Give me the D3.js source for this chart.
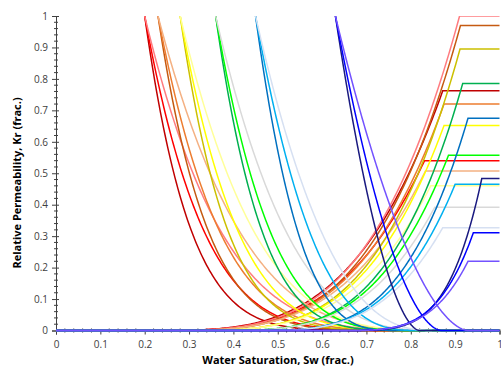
<!DOCTYPE html>
<html>
<head>
<meta charset="utf-8">
<script src="https://cdn.jsdelivr.net/npm/d3@7"></script>
<style>
  body { margin: 0; background: #fff; }
  svg { display: block; }
</style>
</head>
<body>
<div id="chart"></div>
<script>
// one entry per case; each case has an oil (kro) and a water (krw) curve in the same colour
const caseColors = [
  '#C00000', '#FF0000', '#FF7C80',
  '#C55A11', '#ED7D31', '#F4B183',
  '#CCC000', '#FFFF00', '#FFFF99',
  '#00B050', '#00FF00', '#D9D9D9',
  '#0070C0', '#00B0F0', '#D6E0F2',
  '#1A1A80', '#0000FF', '#7352FF'
];
// connate water saturation, read where the kro curves leave kr = 1
const swc = [
  0.20, 0.20, 0.20,
  0.23, 0.23, 0.23,
  0.28, 0.28, 0.28,
  0.36, 0.36, 0.36,
  0.45, 0.45, 0.45,
  0.63, 0.63, 0.63
];
// where each kro curve reaches zero, and its exponent
const kroEnd = [
  0.85, 0.85, 0.90,
  0.88, 0.88, 0.90,
  0.88, 0.88, 0.90,
  0.85, 0.85, 0.87,
  0.78, 0.82, 0.85,
  0.82, 0.87, 0.93
];
const kroExp = [
  6.5, 5.0, 4.1,
  6.0, 4.8, 3.6,
  5.8, 4.7, 3.7,
  4.8, 4.0, 3.1,
  3.4, 2.9, 2.5,
  1.75, 1.8, 1.75
];
// krw end point (1 - Sor) and end-point value, read at the corners on the right
const krwEnd = [
  0.872, 0.831, 0.910,
  0.912, 0.875, 0.833,
  0.911, 0.875, 0.845,
  0.917, 0.885, 0.854,
  0.929, 0.900, 0.872,
  0.960, 0.941, 0.929
];
const krwMax = [
  0.762, 0.540, 1.000,
  0.970, 0.720, 0.507,
  0.895, 0.652, 0.460,
  0.785, 0.557, 0.392,
  0.675, 0.465, 0.327,
  0.483, 0.311, 0.220
];
const krwExp = [
  3.5, 3.5, 3.7,
  3.6, 3.5, 3.4,
  3.6, 3.5, 3.4,
  3.5, 3.4, 3.3,
  3.4, 3.3, 3.2,
  4.5, 4.0, 3.8
];
const xTicks = [0, 0.1, 0.2, 0.3, 0.4, 0.5, 0.6, 0.7, 0.8, 0.9, 1];
const yTicks = [0, 0.1, 0.2, 0.3, 0.4, 0.5, 0.6, 0.7, 0.8, 0.9, 1];

const width = 501, height = 367;
const svg = d3.select('#chart').append('svg')
  .attr('width', width)
  .attr('height', height);

const x = d3.scaleLinear().domain([0, 1]).range([56, 499.5]);
const y = d3.scaleLinear().domain([0, 1]).range([330.5, 16]);

svg.append('defs').append('clipPath')
  .attr('id', 'plot-clip')
  .append('rect')
  .attr('x', x(0) - 2).attr('y', y(1))
  .attr('width', x(1) - x(0) + 4).attr('height', y(0) - y(1) + 10);

// axes
const tickFont = '"Open Sans", "Liberation Sans", sans-serif';
const yAxis = svg.append('g')
  .attr('transform', `translate(${x(0)},0)`)
  .call(d3.axisLeft(y).tickValues(yTicks).tickSize(4).tickPadding(4).tickFormat(d3.format('~g')));
const xAxis = svg.append('g')
  .attr('transform', `translate(0,${y(0)})`)
  .call(d3.axisBottom(x).tickValues(xTicks).tickSize(4).tickPadding(6).tickFormat(d3.format('~g')));

[xAxis, yAxis].forEach(a => {
  a.select('.domain').attr('stroke', '#404040').attr('stroke-width', 1);
  a.selectAll('.tick line').attr('stroke', '#404040');
  a.selectAll('.tick text')
    .attr('fill', '#404040')
    .attr('font-family', tickFont)
    .attr('font-size', '10px');
});
yAxis.selectAll('.tick line').attr('x2', -4).attr('x1', 3);
xAxis.selectAll('.tick line').attr('y1', -1).attr('y2', 4);

// minor ticks every 0.02
const minor = d3.range(0, 1.001, 0.02).filter(v => Math.abs(v * 10 - Math.round(v * 10)) > 1e-6);
svg.append('g').selectAll('line').data(minor).join('line')
  .attr('x1', x(0) - 2).attr('x2', x(0) + 2)
  .attr('y1', d => y(d)).attr('y2', d => y(d))
  .attr('stroke', '#404040');
svg.append('g').selectAll('line').data(minor).join('line')
  .attr('x1', d => x(d)).attr('x2', d => x(d))
  .attr('y1', y(0) - 2).attr('y2', y(0) + 2)
  .attr('stroke', '#404040');

// curves
const line = d3.line().x(d => x(d[0])).y(d => y(d[1]));
const plot = svg.append('g').attr('clip-path', 'url(#plot-clip)');

function kroPoints(i) {
  const pts = [];
  const a = swc[i], b = kroEnd[i];
  for (let k = 0; k <= 200; k++) {
    const sw = a + (b - a) * k / 200;
    pts.push([sw, Math.pow((b - sw) / (b - a), kroExp[i])]);
  }
  pts.push([1, 0]);
  return pts;
}
function krwPoints(i) {
  const pts = [[0, 0]];
  const a = swc[i], b = krwEnd[i];
  for (let k = 0; k <= 200; k++) {
    const sw = a + (b - a) * k / 200;
    pts.push([sw, krwMax[i] * Math.pow((sw - a) / (b - a), krwExp[i])]);
  }
  pts.push([1, krwMax[i]]);
  return pts;
}

caseColors.forEach((c, i) => {
  plot.append('path')
    .attr('d', line(kroPoints(i)))
    .attr('fill', 'none')
    .attr('stroke', c)
    .attr('stroke-width', 1.5);
  plot.append('path')
    .attr('d', line(krwPoints(i)))
    .attr('fill', 'none')
    .attr('stroke', c)
    .attr('stroke-width', 1.5);
});

// titles
svg.append('text')
  .attr('x', 278).attr('y', 364)
  .attr('text-anchor', 'middle')
  .attr('font-family', tickFont)
  .attr('font-weight', 'bold')
  .attr('font-size', '11px')
  .text('Water Saturation, Sw (frac.)');
svg.append('text')
  .attr('transform', 'translate(21,183) rotate(-90)')
  .attr('text-anchor', 'middle')
  .attr('font-family', tickFont)
  .attr('font-weight', 'bold')
  .attr('font-size', '11px')
  .text('Relative Permeability, Kr (frac.)');
</script>
</body>
</html>
